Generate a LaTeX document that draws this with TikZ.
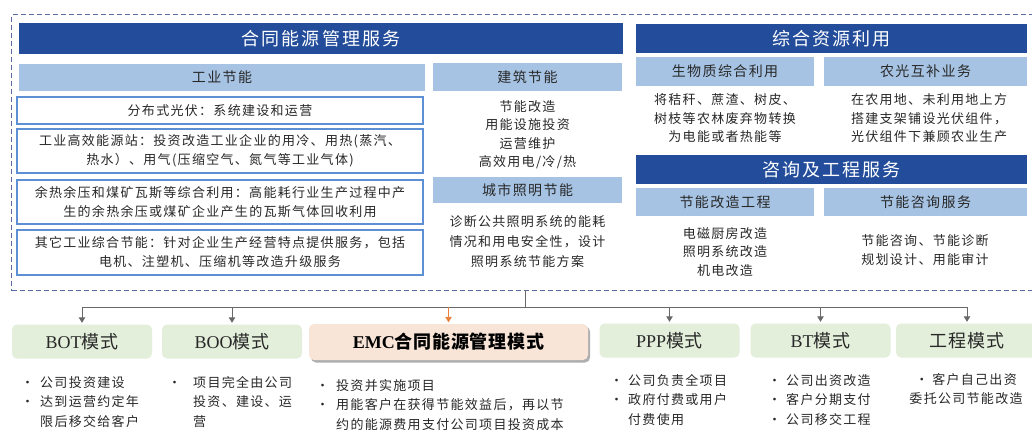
\documentclass[tikz,border=0pt]{standalone}
\usepackage{fontspec}
\setmainfont{Liberation Serif}
\newfontfamily\cjk[LetterSpace=10]{Noto Sans CJK SC}
\newfontfamily\cjkt[LetterSpace=12]{Noto Sans CJK SC}
\newfontfamily\cjkl[LetterSpace=4]{Noto Sans CJK SC}
\usetikzlibrary{arrows.meta,shadows}
\definecolor{dblue}{RGB}{35,77,155}
\definecolor{lblue}{RGB}{166,195,227}
\definecolor{bline}{RGB}{94,142,212}
\definecolor{dashc}{RGB}{88,108,160}
\definecolor{gfill}{RGB}{227,239,219}
\definecolor{pfill}{RGB}{248,229,215}
\definecolor{arrc}{RGB}{105,105,105}
\definecolor{oarr}{RGB}{232,128,60}
\definecolor{txt}{RGB}{40,40,40}
\newcommand{\bul}[1]{\makebox[#1][l]{\textbullet}}
\tikzset{
  darkbar/.style={fill=dblue, text=white, inner sep=0pt, font=\cjkt\fontsize{18}{20}\selectfont},
  lightbar/.style={fill=lblue, text=txt, inner sep=0pt, font=\cjk\fontsize{14}{16}\selectfont},
  wbox/.style={draw=bline, line width=1.3pt, fill=white, text=txt, inner sep=0pt, align=center, font=\cjk\fontsize{13}{19}\selectfont},
  body/.style={text=txt, inner sep=0pt, align=center, font=\cjk\fontsize{13}{18.5}\selectfont},
  outerbox/.style={draw=dashc, line width=1.1pt, dash pattern=on 5pt off 3pt, inner sep=0pt},
  modebox/.style={fill=gfill, rounded corners=5pt, text=txt, inner sep=0pt, minimum width=140pt, minimum height=34pt, font=\fontsize{18}{20}\selectfont},
  emcbox/.style={fill=pfill, rounded corners=5pt, text=black, inner sep=0pt, minimum width=279pt, minimum height=36pt, font=\bfseries\fontsize{18}{20}\selectfont, drop shadow={shadow xshift=2pt, shadow yshift=-2.5pt, fill=black!45, opacity=.7}},
  blist/.style={text=txt, inner sep=0pt, align=left, anchor=base west, font=\cjk\fontsize{13}{19.5}\selectfont},
  conn/.style={draw=arrc, line width=0.9pt},
  arr/.style={conn, -{Triangle[width=6.5pt,length=5.5pt]}, shorten >=1.5pt},
  oarrow/.style={draw=oarr, line width=0.9pt, -{Triangle[width=6.5pt,length=5.5pt]}, shorten >=1.5pt}
}
\begin{document}
\begin{tikzpicture}[x=1pt,y=-1pt]
\useasboundingbox[fill=white] (0,0) rectangle (1032,432);

% outer dashed frame
\node[outerbox, minimum width=1045pt, minimum height=276pt, anchor=north west] (outer) at (11,14) {};

% ---------- left: contract energy management ----------
\node[darkbar, minimum width=604pt, minimum height=31pt] (cem) at (321,38.5) {合同能源管理服务};
\node[lightbar, minimum width=406pt, minimum height=27pt] (ind) at (222,77.5) {工业节能};
\node[wbox, minimum width=406pt, minimum height=27pt] (i1) at (220,110.5) {分布式光伏：系统建设和运营};
\node[wbox, minimum width=406pt, minimum height=44pt] (i2) at (220,151) {工业高效能源站：投资改造工业企业的用冷、用热(蒸汽、\\热水）、用气(压缩空气、氮气等工业气体)};
\node[wbox, minimum width=406pt, minimum height=44pt] (i3) at (220,202) {余热余压和煤矿瓦斯等综合利用：高能耗行业生产过程中产\\生的余热余压或煤矿企业产生的瓦斯气体回收利用};
\node[wbox, minimum width=406pt, minimum height=45pt] (i4) at (220,252.5) {其它工业综合节能：针对企业生产经营特点提供服务，包括\\电机、注塑机、压缩机等改造升级服务};

% middle column
\node[lightbar, minimum width=189pt, minimum height=28pt] (bld) at (527.5,77) {建筑节能};
\node[body] (bldt) at (527.5,134.5) {节能改造\\用能设施投资\\运营维护\\高效用电/冷/热};
\node[lightbar, minimum width=189pt, minimum height=26pt] (city) at (527.5,190) {城市照明节能};
\node[body, font=\cjk\fontsize{13}{20}\selectfont] (cityt) at (527.5,242) {诊断公共照明系统的能耗\\情况和用电安全性，设计\\照明系统节能方案};

% ---------- right: resources ----------
\node[darkbar, minimum width=391pt, minimum height=29pt] (res) at (831.5,38.5) {综合资源利用};
\node[lightbar, minimum width=178pt, minimum height=29pt] (bio) at (725,71.5) {生物质综合利用};
\node[lightbar, minimum width=203pt, minimum height=29pt] (agr) at (925.5,71.5) {农光互补业务};
\node[body] (biot) at (725,118.5) {将秸秆、蔗渣、树皮、\\树枝等农林废弃物转换\\为电能或者热能等};
\node[body] (agrt) at (929,118.5) {在农用地、未利用地上方\\搭建支架铺设光伏组件，\\光伏组件下兼顾农业生产};

\node[darkbar, minimum width=391pt, minimum height=29pt] (cons) at (831.5,169.5) {咨询及工程服务};
\node[lightbar, minimum width=178pt, minimum height=28pt] (eng) at (725,202) {节能改造工程};
\node[lightbar, minimum width=203pt, minimum height=28pt] (adv) at (925.5,202) {节能咨询服务};
\node[body] (engt) at (725,252) {电磁厨房改造\\照明系统改造\\机电改造};
\node[body] (advt) at (925,250) {节能咨询、节能诊断\\规划设计、用能审计};

% ---------- bottom: business modes ----------
\node[modebox] (bot) at (82,341.5) {BOT{\cjkl 模式}};
\node[modebox] (boo) at (232,341.5) {BOO{\cjkl 模式}};
\node[emcbox] (emc) at (448.5,342) {EMC{\cjkl 合同能源管理模式}};
\node[modebox] (ppp) at (669.5,340.5) {PPP{\cjkl 模式}};
\node[modebox] (bt) at (820.5,340.5) {BT{\cjkl 模式}};
\node[modebox, minimum width=142pt] (gc) at (967,340.5) {{\cjkl 工程模式}};

% connectors
\coordinate (drop) at (525,290);
\coordinate (hub) at (525,307);
\draw[conn] (drop) -- (hub);
\draw[arr] (hub) -| (bot.north);
\draw[arr] (hub) -| (boo.north);
\draw[arr] (hub) -| (ppp.north);
\draw[arr] (hub) -| (bt.north);
\draw[arr] (hub) -| (gc.north);
\draw[oarrow] (emc.north |- hub) -- (emc.north);

% bullet lists
\node[blist, text width=120pt] (botl) at (21,387) {\bul{19pt}公司投资建设\\\bul{19pt}达到运营约定年\\\hspace*{19pt}限后移交给客户};
\node[blist, text width=130pt] (bool) at (168,387) {\bul{25pt}项目完全由公司\\\hspace*{25pt}投资、建设、运\\\hspace*{25pt}营};
\node[blist, text width=270pt] (emcl) at (316,390) {\bul{20pt}投资并实施项目\\\bul{20pt}用能客户在获得节能效益后，再以节\\\hspace*{20pt}约的能源费用支付公司项目投资成本};
\node[blist, text width=130pt] (pppl) at (610,385) {\bul{18pt}公司负责全项目\\\bul{18pt}政府付费或用户\\\hspace*{18pt}付费使用};
\node[blist, text width=130pt] (btl) at (768,385) {\bul{18pt}公司出资改造\\\bul{18pt}客户分期支付\\\bul{18pt}公司移交工程};
\node[body, font=\cjk\fontsize{13}{19}\selectfont] (gcl) at (966,389) {\bul{17pt}客户自己出资\\委托公司节能改造};
\end{tikzpicture}
\end{document}
